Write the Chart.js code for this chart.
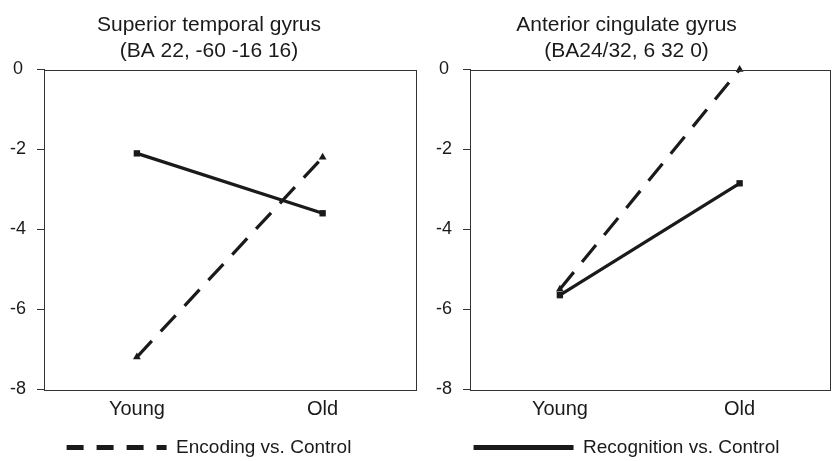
<!DOCTYPE html>
<html>
<head>
<meta charset="utf-8">
<script src="https://cdn.jsdelivr.net/npm/chart.js@4.4.0/dist/chart.umd.min.js"></script>
<style>
  html, body { margin: 0; padding: 0; background: #fff; overflow: hidden; }
  .panel { position: absolute; top: 0; height: 467px; }
  #leftPanel { left: 0; width: 420px; }
  #rightPanel { left: 420px; width: 414px; }
</style>
</head>
<body>
<div class="panel" id="leftPanel"><canvas id="stgChart"></canvas></div>
<div class="panel" id="rightPanel"><canvas id="acgChart"></canvas></div>
<script>
// data
const ageGroups = ['Young', 'Old'];
const stgEncoding = [-7.2, -2.2];
const stgRecognition = [-2.1, -3.6];
const acgEncoding = [-5.5, 0];
const acgRecognition = [-5.65, -2.85];
const yMin = -8;
const yMax = 0;
const yStep = 2;

const ink = '#1a1a1a';
const fontName = "'Liberation Sans', Arial, sans-serif";

// box around the plot area
const frameBox = {
    id: 'frameBox',
    afterDatasetsDraw(chart) {
        const a = chart.chartArea;
        const ctx = chart.ctx;
        ctx.save();
        ctx.strokeStyle = '#333';
        ctx.lineWidth = 1;
        ctx.strokeRect(Math.round(a.left) + 0.5, Math.round(a.top) + 0.5,
            Math.round(a.right - a.left), Math.round(a.bottom - a.top));
        ctx.restore();
    }
};

function makeChart(canvasId, titleLines, encoding, recognition, legendIndex, axisWidth, padRight) {
    const ctx = document.getElementById(canvasId).getContext('2d');
    return new Chart(ctx, {
        type: 'line',
        data: {
            labels: ageGroups,
            datasets: [
                {
                    label: 'Encoding vs. Control',
                    data: encoding,
                    borderColor: ink,
                    backgroundColor: ink,
                    borderWidth: 3.2,
                    borderDash: [22, 13],
                    pointStyle: 'triangle',
                    pointRadius: 4.5,
                    pointBorderWidth: 0,
                    tension: 0,
                    clip: false
                },
                {
                    label: 'Recognition vs. Control',
                    data: recognition,
                    borderColor: ink,
                    backgroundColor: ink,
                    borderWidth: 3.2,
                    pointStyle: 'rect',
                    pointRadius: 4.5,
                    pointBorderWidth: 0,
                    tension: 0,
                    clip: false
                }
            ]
        },
        options: {
            responsive: true,
            maintainAspectRatio: false,
            animation: false,
            layout: { padding: { left: 0, right: padRight, top: 0, bottom: 0 } },
            plugins: {
                title: {
                    display: true,
                    text: titleLines,
                    color: ink,
                    font: { family: fontName, size: 21, weight: 'normal', lineHeight: 1.25 },
                    padding: { top: 12, bottom: 5 }
                },
                legend: {
                    position: 'bottom',
                    labels: {
                        color: ink,
                        font: { family: fontName, size: 19 },
                        usePointStyle: true,
                        pointStyleWidth: 100,
                        padding: 17,
                        generateLabels(chart) {
                            const ds = chart.data.datasets[legendIndex];
                            // legend shows a shorter dash than the plotted line
                            const dash = ds.borderDash ? [17, 13] : [];
                            return [{
                                text: ds.label,
                                datasetIndex: legendIndex,
                                strokeStyle: ink,
                                fillStyle: ink,
                                fontColor: ink,
                                lineWidth: 5,
                                lineDash: dash,
                                lineCap: 'butt',
                                pointStyle: 'line',
                                hidden: false
                            }];
                        }
                    }
                },
                tooltip: { enabled: false }
            },
            scales: {
                x: {
                    offset: true,
                    grid: { display: false },
                    border: { display: false },
                    ticks: {
                        color: ink,
                        padding: 0,
                        font: { family: fontName, size: 20 }
                    }
                },
                y: {
                    min: yMin,
                    max: yMax,
                    afterFit(scale) { scale.width = axisWidth; },
                    grid: {
                        drawOnChartArea: false,
                        drawTicks: true,
                        tickLength: 7,
                        color: '#333'
                    },
                    border: { display: true, color: '#333' },
                    ticks: {
                        stepSize: yStep,
                        color: ink,
                        padding: 11,
                        crossAlign: 'center',
                        font: { family: fontName, size: 18 }
                    }
                }
            }
        },
        plugins: [frameBox]
    });
}

makeChart('stgChart', ['Superior temporal gyrus', '(BA 22, -60 -16 16)'],
    stgEncoding, stgRecognition, 0, 44, 2);
makeChart('acgChart', ['Anterior cingulate gyrus', '(BA24/32, 6 32 0)'],
    acgEncoding, acgRecognition, 1, 50, 1);
</script>
</body>
</html>
